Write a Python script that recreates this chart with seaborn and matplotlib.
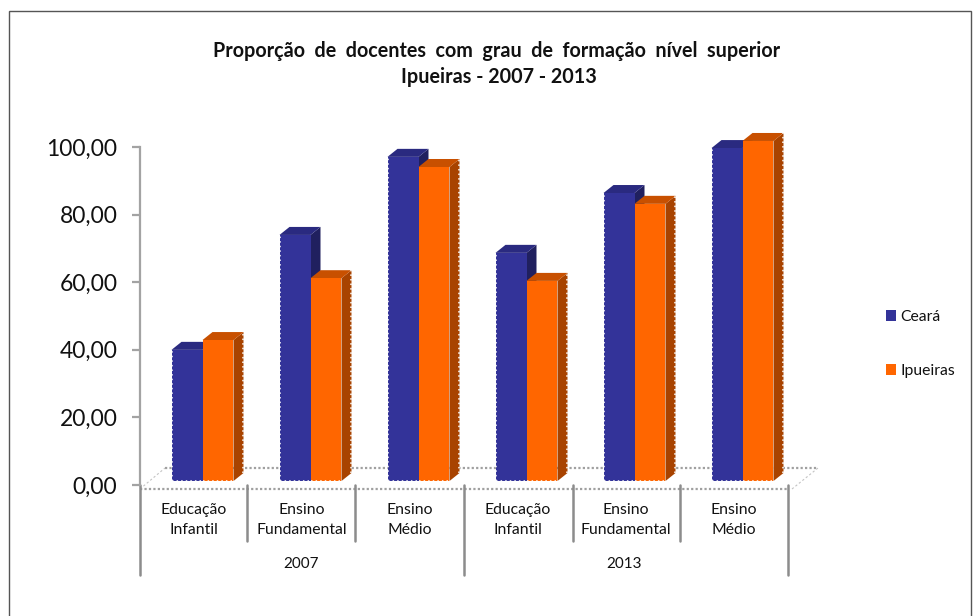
import matplotlib
matplotlib.use("Agg")
import matplotlib.pyplot as plt
import numpy as np
import pandas as pd
import seaborn as sns
from matplotlib.patches import Patch, Polygon, Rectangle
from matplotlib.transforms import Affine2D, ScaledTranslation

grupos = ["2007-EI", "2007-EF", "2007-EM", "2013-EI", "2013-EF", "2013-EM"]
etapas = ["Educação\nInfantil", "Ensino\nFundamental", "Ensino\nMédio",
          "Educação\nInfantil", "Ensino\nFundamental", "Ensino\nMédio"]
anos = ["2007", "2013"]
ceara = [38.8, 72.8, 95.9, 67.5, 85.2, 98.5]
ipueiras = [41.7, 60.0, 92.9, 59.2, 82.0, 100.6]
yticks = [0, 20, 40, 60, 80, 100]
ylabels = ["0,00", "20,00", "40,00", "60,00", "80,00", "100,00"]

W, H = 974, 616
GREY = "#a3a3a3"
DARK = "#8c8c8c"

sns.set_theme(style="white")
plt.rcParams["font.family"] = ["Lato", "DejaVu Sans"]

df = pd.DataFrame({
    "grupo": grupos * 2,
    "serie": ["Ceará"] * 6 + ["Ipueiras"] * 6,
    "valor": ceara + ipueiras,
})

fig = plt.figure(figsize=(W / 100, H / 100), dpi=100)
ax = fig.add_axes([140 / W, (H - 485) / H, 648 / W, 338 / H])

cores = {"Ceará": "#333399", "Ipueiras": "#ff6600"}
sombra = {"Ceará": ("#2a2a80", "#20205f"), "Ipueiras": ("#c85000", "#a84300")}

sns.barplot(data=df, x="grupo", y="valor", hue="serie", order=grupos,
            palette=cores, saturation=1, width=0.574, gap=0, legend=False, ax=ax)

ax.set_xlim(-0.5, 5.5)
ax.set_ylim(0, 100)
ax.set_xlabel("")
ax.set_ylabel("")

# pixel coords of the picture, y going down
px = Affine2D().scale(1, -1).translate(0, H)

# the bars stand a bit right of and above the axis origin
desloc = ax.transData + ScaledTranslation(8.5 / 100, 4 / 100, Affine2D().scale(100))
dx = 10 / 108
dy = 8 / 3.38
serra = dict(color="white", lw=1.1, ls=(0, (1, 2)), transform=desloc, clip_on=False, zorder=8)

for i, (nome, cont) in enumerate(zip(["Ceará", "Ipueiras"], ax.containers)):
    topo_cor, lado_cor = sombra[nome]
    for barra in cont:
        x0, larg, alt = barra.get_x(), barra.get_width(), barra.get_height()
        x1 = x0 + larg
        lado = Polygon([(x1, 0), (x1 + dx, dy), (x1 + dx, alt + dy), (x1, alt)],
                       fc=lado_cor, ec="none", transform=desloc,
                       clip_on=False, zorder=2 + 2 * i)
        topo = Polygon([(x0, alt), (x0 + dx, alt + dy), (x1 + dx, alt + dy), (x1, alt)],
                       fc=topo_cor, ec="none", transform=desloc,
                       clip_on=False, zorder=2 + 2 * i)
        ax.add_patch(lado)
        ax.add_patch(topo)
        barra.set_transform(desloc)
        barra.set_clip_on(False)
        barra.set_zorder(3 + 2 * i)
        barra.set_edgecolor("none")
        # serrated outer edges of the original
        ax.plot([x0, x1], [0, 0], **serra)
        if nome == "Ceará":
            ax.plot([x0, x0], [0, alt], **serra)
        else:
            ax.plot([x1 + dx, x1 + dx], [dy, alt + dy], **serra)

# piso
piso = dict(color="#a0a0a0", lw=1.6, ls=(0, (1, 1)), transform=px, clip_on=False, zorder=1)
ax.plot([140, 788], [489, 489], **piso)
ax.plot([165, 818], [468, 468], **piso)
ax.plot([140, 165], [489, 468], color="#c4c4c4", lw=0.8, ls=(0, (2, 2)), transform=px, clip_on=False, zorder=1)
ax.plot([792, 818], [489, 468], color="#c4c4c4", lw=0.8, ls=(0, (2, 2)), transform=px, clip_on=False, zorder=1)

# eixos
sns.despine(ax=ax, left=False, bottom=True, top=True, right=True)
ax.spines["left"].set_color(GREY)
ax.spines["left"].set_linewidth(1.6)
ax.set_yticks(yticks, ylabels, fontsize=16.5, color="#111111")
ax.tick_params(axis="y", left=True, length=5.8, width=1.6, color=GREY, pad=10.5)
ax.set_xticks(range(len(etapas)), etapas, fontsize=11.3, color="#111111", linespacing=1.5)
ax.tick_params(axis="x", bottom=False, pad=7)

# separadores das categorias
for x in [247, 355, 573, 680]:
    ax.plot([x, x], [485, 541], color=DARK, lw=1.8, transform=px, clip_on=False, zorder=1)
for x in [140, 464, 788]:
    ax.plot([x, x], [485, 575], color=DARK, lw=1.8, transform=px, clip_on=False, zorder=1)

for k, ano in enumerate(anos):
    ax.text(301 + k * 323.5, 564, ano, transform=px, ha="center", va="center",
            fontsize=11, color="#111111")

# titulo
fig.text(497 / W, 1 - 51 / H, "Proporção  de  docentes  com  grau  de  formação  nível  superior",
         ha="center", va="center", fontsize=14.2, fontweight="bold", color="#111111")
fig.text(499 / W, 1 - 77 / H, "Ipueiras - 2007 - 2013",
         ha="center", va="center", fontsize=14.2, fontweight="bold", color="#111111")

# legenda
handles = [Patch(fc=cores[n], ec="none") for n in ["Ceará", "Ipueiras"]]
fig.legend(handles, ["Ceará", "Ipueiras"], loc="center left",
           bbox_to_anchor=(873 / W, 1 - 344 / H), frameon=False, fontsize=11.3,
           handlelength=0.65, handleheight=0.65, handletextpad=0.3, labelspacing=2.55,
           borderpad=0.3, labelcolor="#111111")

# moldura
fig.add_artist(Rectangle((8.5 / W, -0.01), (971 - 8.5) / W, 1 - 10.5 / H + 0.01,
                         transform=fig.transFigure, fc="none", ec="#555555", lw=1))

fig.savefig("out.png", dpi=100)
